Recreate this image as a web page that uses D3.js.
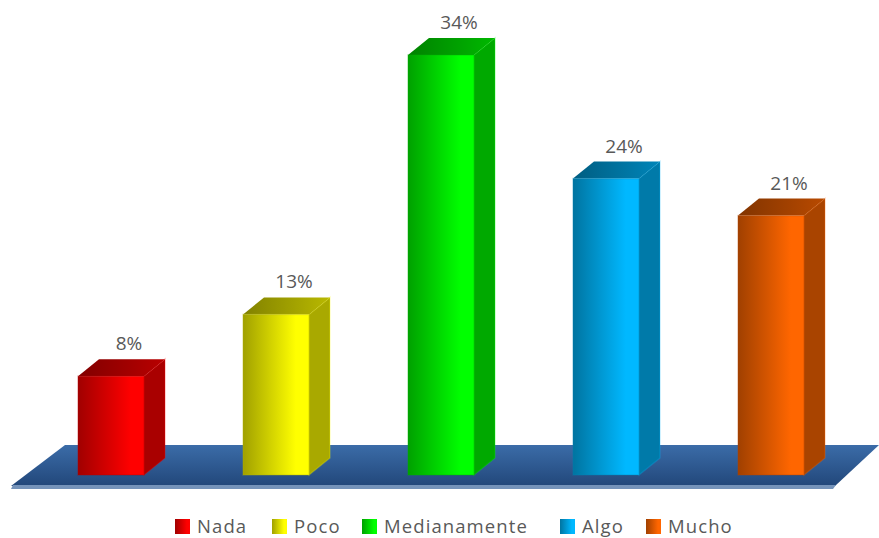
<!DOCTYPE html>
<html>
<head>
<meta charset="utf-8">
<script src="https://cdn.jsdelivr.net/npm/d3@7/dist/d3.min.js"></script>
<style>
html,body{margin:0;padding:0;background:#fff;}
svg{display:block;}
text{font-family:"Open Sans",sans-serif;fill:#595959;}
</style>
</head>
<body>
<svg id="chart" width="879" height="538"></svg>
<script>
const categories = ["Nada", "Poco", "Medianamente", "Algo", "Mucho"];
const values = [8, 13, 34, 24, 21];
const colors = ["#ff0000", "#ffff00", "#00ff00", "#00b8ff", "#ff6600"];
const legendX = [175, 272, 362, 560, 646];

const width = 879, baseY = 475, depthX = 21, depthY = 17;
const svg = d3.select("#chart");
const defs = svg.append("defs");

const x = d3.scaleBand().domain(categories).range([28.5, 853.5]).paddingInner(0.6).paddingOuter(0.3);
const y = d3.scaleLinear().domain([0, 34]).range([baseY, 55]);
const poly = pts => d3.line()(pts) + "Z";

// Floor slab
const floorGrad = defs.append("linearGradient").attr("id", "floor").attr("x1", 0).attr("x2", 0).attr("y1", 0).attr("y2", 1);
floorGrad.append("stop").attr("offset", 0).attr("stop-color", "#3b6ca8");
floorGrad.append("stop").attr("offset", 1).attr("stop-color", "#22477a");
svg.append("path")
  .attr("d", poly([[65, 445], [width, 445], [835, 486], [11, 486]]))
  .attr("fill", "url(#floor)");
svg.append("path")
  .attr("d", poly([[13, 485], [836, 485], [833, 489], [11, 489]]))
  .attr("fill", "#7593ba");

// Per-bar shading
categories.forEach((c, i) => {
  const base = d3.rgb(colors[i]);
  const front = defs.append("linearGradient").attr("id", "front" + i);
  front.append("stop").attr("offset", 0).attr("stop-color", base.darker(1.3));
  front.append("stop").attr("offset", 0.8).attr("stop-color", base);
  front.append("stop").attr("offset", 1).attr("stop-color", base);
  const top = defs.append("linearGradient").attr("id", "top" + i);
  top.append("stop").attr("offset", 0).attr("stop-color", base.darker(1.9));
  top.append("stop").attr("offset", 1).attr("stop-color", base.darker(0.9));
});

const bars = svg.selectAll("g.bar")
  .data(categories.map((c, i) => ({ c, i, v: values[i] })))
  .join("g").attr("class", "bar");

// Side wall
bars.append("path")
  .attr("d", d => {
    const r = x(d.c) + x.bandwidth(), t = y(d.v);
    return poly([[r, t], [r + depthX, t - depthY], [r + depthX, baseY - depthY], [r, baseY]]);
  })
  .attr("fill", d => d3.rgb(colors[d.i]).darker(1.15))
  .attr("stroke", d => colors[d.i])
  .attr("stroke-opacity", 0.25)
  .attr("stroke-width", 1.5);

// Top cap
bars.append("path")
  .attr("d", d => {
    const l = x(d.c), r = l + x.bandwidth(), t = y(d.v);
    return poly([[l, t], [l + depthX, t - depthY], [r + depthX, t - depthY], [r, t]]);
  })
  .attr("fill", d => `url(#top${d.i})`);

// Front face
bars.append("rect")
  .attr("x", d => x(d.c))
  .attr("y", d => y(d.v))
  .attr("width", x.bandwidth())
  .attr("height", d => baseY - y(d.v))
  .attr("fill", d => `url(#front${d.i})`)
  .attr("stroke", d => d3.rgb(colors[d.i]).darker(1))
  .attr("stroke-opacity", 0.3)
  .attr("stroke-width", 1.5);

// Value labels
bars.append("text")
  .attr("x", d => x(d.c) + 51)
  .attr("y", d => y(d.v) - 26)
  .attr("text-anchor", "middle")
  .attr("font-size", 19)
  .text(d => d.v + "%");

// Legend
const legend = svg.selectAll("g.legend")
  .data(categories.map((c, i) => ({ c, i })))
  .join("g").attr("class", "legend")
  .attr("transform", d => `translate(${legendX[d.i]},519)`);
legend.append("rect")
  .attr("width", 15).attr("height", 15)
  .attr("fill", d => `url(#front${d.i})`);
legend.append("text")
  .attr("x", 22).attr("y", 13.5)
  .attr("font-size", 18.5)
  .attr("letter-spacing", 1.1)
  .text(d => d.c);
</script>
</body>
</html>
